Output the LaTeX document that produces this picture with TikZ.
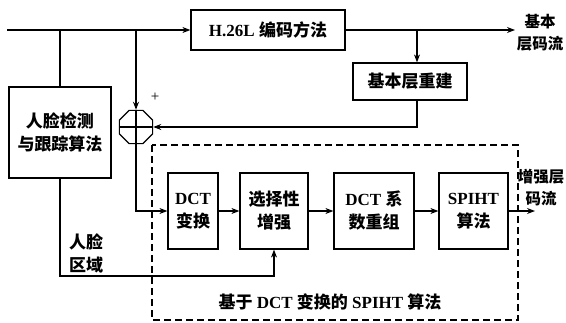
\documentclass[tikz,border=0pt]{standalone}
\usepackage{fontspec}
\setmainfont{Liberation Serif}
\newfontfamily\cjk{Noto Sans CJK SC}
\newcommand\zh[1]{{\cjk #1}}
\usetikzlibrary{arrows.meta,shapes.geometric}
\begin{document}
\begin{tikzpicture}[x=1pt,y=-1pt,line width=1.2pt,
  >={Stealth[length=8pt,width=6pt]},
  every node/.style={font=\bfseries\fontsize{17}{23}\selectfont},
  blk/.style={draw,align=center,inner sep=0pt},
  lbl/.style={align=center,inner sep=0pt},
  edgelbl/.style={lbl,font=\bfseries\fontsize{15.5}{22}\selectfont}]
\useasboundingbox (0,0) rectangle (566,322);
% nodes
\node[blk,minimum width=154pt,minimum height=40pt] (h26) at (268,30) {H.26L \zh{编码方法}};
\node[blk,minimum width=114pt,minimum height=37pt] (rec) at (410,81.5) {\zh{基本层重建}};
\node[blk,minimum width=102pt,minimum height=91pt] (face) at (60,132.5) {\zh{人脸检测}\\\zh{与跟踪算法}};
\node[draw,regular polygon,regular polygon sides=8,minimum size=36pt,inner sep=0pt] (add) at (136,127) {};
\draw (add.north) -- (add.south) (add.west) -- (add.east);
\node[blk,minimum width=50pt,minimum height=76pt] (dct) at (193,211) {DCT\\\zh{变换}};
\node[blk,minimum width=68pt,minimum height=76pt] (sel) at (274,211) {\zh{选择性}\\\zh{增强}};
\node[blk,minimum width=80pt,minimum height=76pt] (reo) at (374,211) {DCT \zh{系}\\\zh{数重组}};
\node[blk,minimum width=69pt,minimum height=76pt] (spi) at (473.5,211) {SPIHT\\\zh{算法}};
\draw[dashed,dash pattern=on 7pt off 4pt] (152,145) rectangle (518,320);
\node[lbl] (dlab) at (330,302) {\zh{基于} DCT \zh{变换的} SPIHT \zh{算法}};
\node[edgelbl] (o1lab) at (540,33) {\zh{基本}\\\zh{层码流}};
\node[edgelbl] (o2lab) at (541,188) {\zh{增强层}\\\zh{码流}};
\node[lbl,align=left] (flab) at (86,253) {\zh{人脸}\\\zh{区域}};
\node[lbl,font=\fontsize{15}{16}\selectfont] (plus) at (155,97) {+};
% coordinates
\coordinate (start) at (7,30);
\coordinate (br3) at (60,30);
\coordinate (br2) at (136,30);
\coordinate (br1) at (417,30);
\coordinate (out1) at (515,30);
\coordinate (out2) at (535,211);
\coordinate (fr) at (60,276);
% connectors
\draw[->] (start) -- (h26.west);
\draw[->] (h26.east) -- (out1);
\draw[->] (br1) -- (br1 |- rec.north);
\draw[->] (br1 |- rec.south) |- (add.east);
\draw[->] (br2) -- (add.north);
\draw (br3) -- (face.north);
\draw[->] (add.south) |- (dct.west);
\draw[->] (face.south) -- (fr) -| (sel.south);
\draw[->] (dct.east) -- (sel.west);
\draw[->] (sel.east) -- (reo.west);
\draw[->] (reo.east) -- (spi.west);
\draw[->] (spi.east) -- (out2);
\end{tikzpicture}
\end{document}
